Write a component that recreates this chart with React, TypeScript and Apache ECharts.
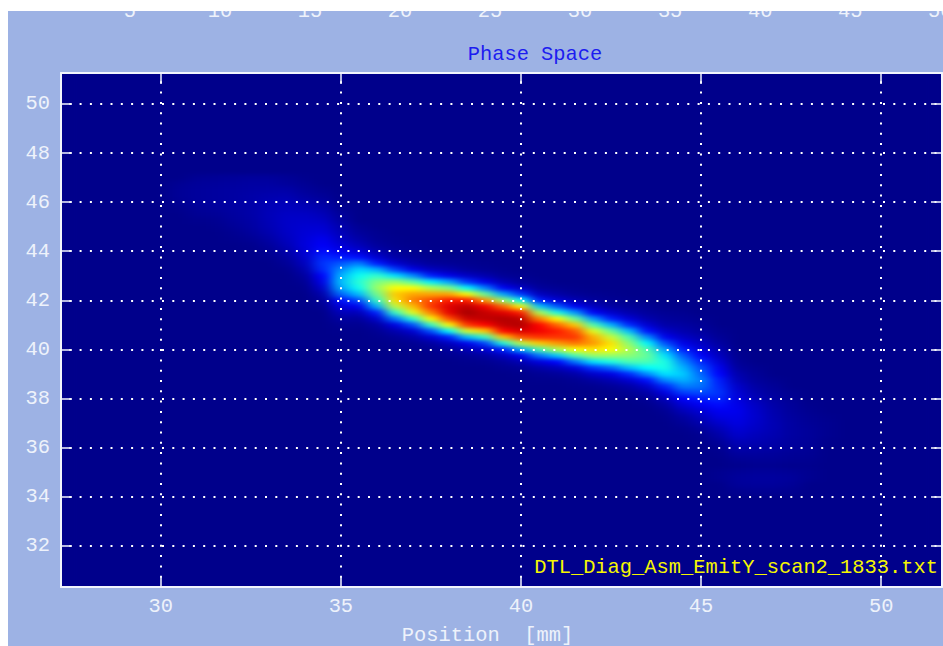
import React, { useEffect, useRef } from "react";
import * as echarts from "echarts";

const titleText = "Phase Space";
const xAxisTitle = "Position  [mm]";
const fileLabel = "DTL_Diag_Asm_EmitY_scan2_1833.txt";
const xTicks = [30, 35, 40, 45, 50];
const yTicks = [32, 34, 36, 38, 40, 42, 44, 46, 48, 50];
const topTicks = [5, 10, 15, 20, 25, 30, 35, 40, 45, 50];
const jet = ["#00008b", "#0000ff", "#00ffff", "#ffff00", "#ff0000", "#800000"];

const columnX = [30.5, 31, 31.5, 32, 32.5, 33, 33.5, 34, 34.5, 35, 35.5, 36, 36.5, 37, 37.5, 38, 38.5, 39, 39.5, 40, 40.5, 41, 41.5, 42, 42.5, 43, 43.5, 44, 44.5, 45, 45.5, 46, 46.5, 47, 47.5, 48, 48.5];
const columnTop = [46.75, 47, 47, 47, 47, 47, 47, 47, 46.5, 45.75, 45, 44.75, 44.5, 44.25, 44, 43.75, 43.75, 43.5, 43.25, 43, 42.75, 42.5, 42.5, 42.25, 42.25, 42, 41.75, 41.5, 41.5, 41.25, 40.75, 40, 39.25, 38.75, 38.25, 37.75, 37.25];
const columnValues = [
  [1.5, 2, 2, 1.5, 0.5],
  [1.5, 2.5, 3, 3, 3, 2, 1.5, 0.5],
  [2, 3, 3.5, 3.5, 3.5, 3, 2, 1, 0.5],
  [2.5, 3.5, 4, 4, 4, 4, 3.5, 3, 2, 1, 0.5],
  [3, 4, 4.5, 5, 5, 5, 5, 4.5, 4, 3, 1.5, 0.5],
  [3, 4, 5, 6, 7, 7.5, 8, 7.5, 7, 6, 4.5, 3, 1.5, 0.5],
  [2, 3, 5, 6.5, 8, 9, 10, 10.5, 10.5, 10, 9, 7.5, 5.5, 3.5, 2, 0.5],
  [0.5, 1.5, 2.5, 4, 6, 8, 10, 11, 12, 13, 13.5, 14, 13, 11, 9, 6, 3.5, 1.5, 0.5],
  [1, 2, 4, 6, 8, 10, 12, 14, 17, 19, 21, 23, 24, 23, 20, 16, 11, 6, 3, 1],
  [1, 2.5, 4, 6, 8, 10, 13, 17, 22, 27, 31, 34, 35, 33, 28, 21, 14, 8, 4, 1.5, 0.5],
  [1.5, 3, 5, 8, 13, 21, 30, 37, 41, 43, 41, 35, 26, 17, 8, 3, 1],
  [1, 1.5, 3, 6, 12, 22, 34, 44, 50, 52, 49, 44, 34, 22, 11, 4, 1.5, 0.5],
  [0.5, 1, 2.5, 5, 12, 25, 38, 52, 60, 64, 62, 55, 44, 29, 15, 6, 2, 0.5],
  [0.5, 1, 2.5, 6, 16, 31, 47, 60, 67, 70, 65, 58, 43, 26, 12, 5, 1.5, 0.5],
  [0.5, 1, 3, 9, 22, 39, 54, 67, 74, 76, 70, 60, 44, 26, 12, 4, 1, 0.3],
  [0.5, 2, 6, 16, 33, 50, 67, 78, 85, 84, 74, 60, 40, 22, 9, 3, 1],
  [0.5, 1, 3, 10, 24, 40, 60, 78, 90, 94, 88, 76, 57, 35, 17, 7, 2, 0.5],
  [0.5, 1.5, 6, 16, 30, 48, 68, 82, 89, 90, 80, 64, 44, 25, 12, 4, 1],
  [0.5, 2, 7, 18, 33, 52, 72, 85, 92, 90, 80, 64, 42, 22, 9, 3, 1],
  [1, 3, 10, 24, 40, 60, 78, 90, 92, 86, 74, 55, 34, 17, 7, 2, 0.5],
  [1, 3, 9, 22, 36, 54, 70, 80, 82, 76, 64, 46, 29, 14, 5, 1.5, 0.5],
  [1.5, 5, 13, 27, 42, 60, 72, 78, 76, 68, 54, 36, 20, 8, 2.5, 0.5],
  [0.5, 2, 7, 18, 32, 48, 64, 73, 76, 71, 60, 46, 29, 14, 5, 1.5, 0.5],
  [1, 3, 9, 19, 32, 46, 58, 66, 68, 62, 52, 38, 24, 11, 4, 1],
  [0.5, 1.5, 4, 11, 22, 34, 48, 56, 62, 60, 52, 42, 28, 15, 7, 2.5, 0.5],
  [1, 2.5, 6, 13, 23, 35, 46, 51, 54, 51, 46, 35, 23, 12, 5, 2, 0.5],
  [1.5, 3, 6, 12, 21, 31, 40, 46, 48, 46, 40, 31, 21, 11, 5, 2, 0.5],
  [1.5, 3, 5, 10, 17, 26, 33, 38, 42, 42, 38, 31, 23, 15, 8, 4, 1.5, 0.5],
  [1, 2, 4, 6, 10, 16, 22, 27, 31, 34, 36, 34, 30, 25, 19, 13, 8, 4, 2, 0.5],
  [1, 2, 3.5, 6, 10, 14, 19, 23, 26, 28, 30, 29, 26, 22, 18, 13, 9, 6, 3, 1, 0.5],
  [1, 2, 4, 6.5, 9, 13, 17, 20, 22, 23, 24, 23, 21, 18, 15, 11, 7.5, 5, 2.5, 1, 0.3],
  [0.5, 1, 2, 3.5, 6, 8, 11, 13, 15, 16, 17, 16, 15, 13, 11, 8, 5.5, 3.5, 1.5, 0.5],
  [1, 2, 3, 4.5, 6, 8, 10, 11, 11.5, 11, 10, 8.5, 7, 5, 3.5, 2, 1, 0.5],
  [1, 2, 3, 4, 5, 6, 6.5, 7, 7, 6.5, 5.5, 4.5, 3, 2, 1, 0.5],
  [1, 1.5, 2.5, 3, 3.5, 4, 4, 4, 3.5, 3, 2, 1.5, 0.5],
  [0.5, 1, 1.5, 2, 2.5, 2.5, 2.5, 2, 1.5, 1, 0.5],
  [0.5, 1, 1, 1, 0.5],
];
const patchX = [45.5, 46, 46.5, 47, 47.5, 48];
const patchTop = [35, 35, 35, 35, 35, 35];
const patchValues = [
  [1, 1],
  [2, 3, 2.5, 1],
  [2.5, 3.5, 3, 1.5],
  [2.5, 3.5, 3, 1.5],
  [2, 3, 2, 1],
  [1, 1],
];

const X_MIN = 27.23;
const X_MAX = 51.69;
const Y_MIN = 30.32;
const Y_MAX = 51.26;
const FONT = "'Liberation Mono'";
const INK = "#eef2fb";

function buildCells() {
  const cells: number[][] = [];
  const add = (xs: number[], tops: number[], vals: number[][]) =>
    xs.forEach((x, i) => vals[i].forEach((v, j) => cells.push([x, tops[i] - j * 0.25, v])));
  add(columnX, columnTop, columnValues);
  add(patchX, patchTop, patchValues);
  return cells;
}

export default function App() {
  const heatRef = useRef<HTMLDivElement>(null);
  const mainRef = useRef<HTMLDivElement>(null);

  useEffect(() => {
    const heat = echarts.init(heatRef.current!, undefined, { renderer: "svg" });
    heat.setOption({
      animation: false,
      backgroundColor: "#00008b",
      grid: { left: 0, top: 0, right: 0, bottom: 0, outerBoundsMode: "none" },
      xAxis: { type: "value", min: X_MIN, max: X_MAX, show: false },
      yAxis: { type: "value", min: Y_MIN, max: Y_MAX, show: false },
      visualMap: { show: false, dimension: 2, min: 0, max: 100, inRange: { color: jet } },
      series: [
        {
          type: "custom",
          data: buildCells(),
          encode: { x: 0, y: 1 },
          renderItem: (_: any, api: any) => {
            const p = api.coord([api.value(0), api.value(1)]);
            const s = api.size([0.5, 0.25]);
            return {
              type: "rect",
              shape: { x: p[0] - s[0] / 2, y: p[1] - s[1] / 2, width: s[0] + 0.5, height: s[1] + 0.5 },
              style: { fill: api.visual("color") },
            };
          },
        },
      ],
    });

    const main = echarts.init(mainRef.current!, undefined, { renderer: "svg" });
    const labelStyle = { color: INK, fontFamily: FONT, fontSize: 20.4 };
    const dotted = (dashOffset: number) => ({
      show: true,
      lineStyle: { color: "#ffffff", width: 2, type: [2, 8.3], dashOffset },
    });
    const axisLine = { show: true, onZero: false, lineStyle: { color: "#f2f5fd", width: 2 } };
    main.setOption({
      animation: false,
      backgroundColor: "transparent",
      title: {
        text: titleText,
        left: 530,
        top: 39,
        textAlign: "center",
        textStyle: { color: "#1c1cf0", fontFamily: FONT, fontSize: 20.4, fontWeight: "normal" },
      },
      grid: { left: 61, top: 73, width: 881, height: 514, outerBoundsMode: "none" },
      xAxis: [
        {
          type: "value", position: "bottom", min: X_MIN, max: X_MAX,
          name: xAxisTitle, nameLocation: "middle", nameGap: 38,
          nameTextStyle: { ...labelStyle, padding: [0, 28, 0, 0] },
          axisLine,
          axisTick: { show: true, inside: true, length: 11, customValues: xTicks, lineStyle: { color: "#f2f5fd", width: 1.5 } },
          axisLabel: { ...labelStyle, margin: 9, customValues: xTicks, formatter: "{value}" },
          splitLine: dotted(1.6),
        },
        {
          type: "value", position: "top", min: X_MIN, max: X_MAX,
          axisLine,
          axisTick: { show: true, inside: true, length: 11, customValues: xTicks, lineStyle: { color: "#f2f5fd", width: 1.5 } },
          axisLabel: { show: false },
          splitLine: { show: false },
        },
        {
          type: "value", position: "top", offset: 50, min: 1.17, max: 50.1,
          axisLine: { show: false },
          axisTick: { show: false },
          axisLabel: { ...labelStyle, margin: 2, customValues: topTicks, formatter: "{value}" },
          splitLine: { show: false },
        },
      ],
      yAxis: [
        {
          type: "value", position: "left", min: Y_MIN, max: Y_MAX,
          axisLine,
          axisTick: { show: true, inside: true, length: 11, customValues: yTicks, lineStyle: { color: "#f2f5fd", width: 1.5 } },
          axisLabel: { ...labelStyle, margin: 11, customValues: yTicks, formatter: "{value}" },
          splitLine: dotted(1.6),
        },
        {
          type: "value", position: "right", min: Y_MIN, max: Y_MAX,
          axisLine,
          axisTick: { show: true, inside: true, length: 11, customValues: yTicks, lineStyle: { color: "#f2f5fd", width: 1.5 } },
          axisLabel: { show: false },
          splitLine: { show: false },
        },
      ],
      graphic: [
        {
          type: "text", x: 938, y: 567, z: 10,
          style: { text: fileLabel, fill: "#f6f600", font: `20.4px ${FONT}`, textAlign: "right", textVerticalAlign: "middle" },
        },
      ],
      series: [
        { type: "line", xAxisIndex: 0, yAxisIndex: 0, data: [], silent: true },
      ],
    });

    return () => {
      heat.dispose();
      main.dispose();
    };
  }, []);

  return (
    <div style={{ position: "fixed", left: 0, top: 0, width: 943, height: 646, background: "#ffffff", overflow: "hidden" }}>
      <svg width={0} height={0} style={{ position: "absolute" }}>
        <filter id="soften" x="-5%" y="-5%" width="110%" height="110%" colorInterpolationFilters="sRGB">
          <feGaussianBlur stdDeviation="6.5 2" />
        </filter>
      </svg>
      <div style={{ position: "absolute", left: 8, top: 11, width: 935, height: 635, background: "#9db2e4", overflow: "hidden" }}>
        <div style={{ position: "absolute", left: 53, top: 62, width: 881, height: 514, background: "#00008b", overflow: "hidden" }}>
          <div ref={heatRef} style={{ width: 881, height: 514, filter: "url(#soften)" }} />
        </div>
        <div ref={mainRef} style={{ position: "absolute", left: -8, top: -11, width: 943, height: 646 }} />
      </div>
    </div>
  );
}
